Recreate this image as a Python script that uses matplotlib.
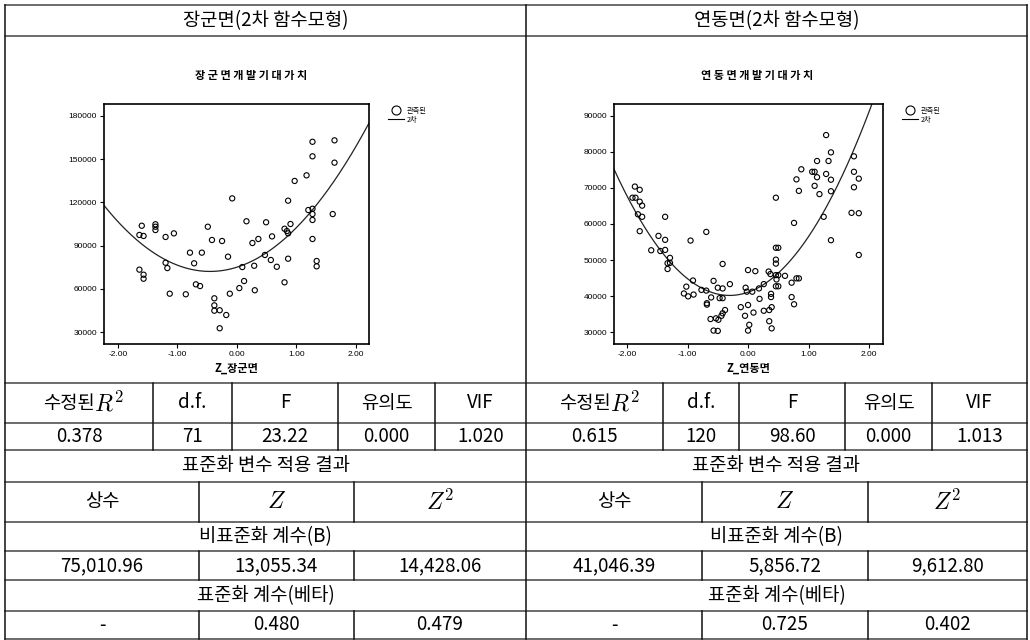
import numpy as np
import matplotlib
matplotlib.use('Agg')
import matplotlib.pyplot as plt
from matplotlib.lines import Line2D

plt.rcParams['font.family'] = ['Noto Sans CJK KR', 'DejaVu Sans']
plt.rcParams['mathtext.fontset'] = 'cm'

# 장군면: standardized z vs expected development value
jg_z = [-0.08, -1.60, -1.37, -1.37, -1.37, -1.64, -1.57, -1.20, -1.06, -0.49, -0.42, -0.25,
        -0.79, -0.59, -0.15, -0.72, -1.20, -1.17, -1.64, -1.57, -1.57, -0.69, -0.62, -1.13,
        -0.86, -0.12, -0.38, -0.38, -0.38, -0.29, -0.18, -0.29, 0.04,
        1.27, 1.64, 1.27, 1.64, 1.17, 0.97, 0.86, 1.20, 1.27, 1.27, 1.27, 1.61, 1.27, 0.16,
        0.49, 0.90, 0.80, 0.84, 0.86, 0.59, 0.36, 0.26, 0.47, 0.57, 0.86, 0.67, 0.29, 0.09,
        1.34, 1.34, 0.12, 0.30, 0.80]
jg_v = [122800, 103800, 104800, 103100, 100800, 97400, 96700, 96000, 98500, 103100, 93900, 93200,
        85100, 85100, 82300, 77700, 78100, 74400, 73300, 69800, 67000, 63100, 61900, 56600,
        56200, 56600, 53400, 48500, 44800, 45100, 41800, 32600, 60500,
        162100, 163100, 152000, 147600, 138800, 134900, 121200, 114700, 115600, 111900, 107800,
        111900, 94600, 106900, 106200, 105000, 101700, 100100, 98500, 96400, 94600, 91800,
        83500, 80000, 80900, 75300, 76000, 75100, 79300, 75600, 65400, 59000, 64500]

# 연동면
yd_z = [-1.87, -1.79, -1.91, -1.86, -1.79, -1.75, -1.82, -1.75, -1.37, -1.79, -0.69, -1.48,
        -1.37, -0.95, -1.60, -1.45, -1.37, -1.29, -1.33, -1.29, -1.33, -0.42, -0.91, -0.57,
        -1.02, -0.50, -0.42, -0.30, -0.77, -0.69, -1.06, -0.99, -0.90, -0.61, -0.47, -0.42,
        -0.04, -0.68, -0.68, -0.38, -0.42, -0.44, -0.53, -0.62, -0.49, -0.57, -0.50, -0.12,
        0.00, -0.05, 0.02, 0.00,
        1.29, 1.37, 1.14, 1.33, 0.88, 1.06, 1.10, 1.14, 1.29, 1.37, 0.80, 1.10, 0.84, 1.18,
        1.37, 1.75, 1.75, 1.83, 1.75, 0.46, 0.76, 1.25, 1.71, 1.83, 1.37, 1.83, 0.46, 0.50,
        0.46, 0.46, 0.00, 0.12, 0.34, 0.37, 0.46, 0.50, 0.47, 0.61, 0.80, 0.84, 0.72, 0.46,
        0.50, 0.26, 0.18, 0.07, -0.02, 0.38, 0.38, 0.19, 0.72, 0.76, 0.39, 0.35, 0.26, 0.09,
        0.35, 0.39]
yd_v = [70400, 69500, 67300, 67300, 66200, 65100, 62700, 62000, 62000, 58000, 57800, 56700,
        55600, 55400, 52700, 52500, 52800, 50600, 49100, 49200, 47500, 48900, 44300, 44200,
        42600, 42300, 42100, 43300, 41700, 41500, 40700, 39900, 40400, 39600, 39400, 39400,
        42300, 38000, 37600, 36100, 35200, 34500, 33800, 33600, 33400, 30400, 30300, 36900,
        37500, 34500, 32000, 30400,
        84700, 79900, 77500, 77500, 75200, 74500, 74500, 73000, 73900, 72300, 72400, 70600,
        69200, 68300, 69100, 78800, 74500, 72600, 70200, 67300, 60300, 62000, 63100, 63000,
        55500, 51400, 53400, 53400, 50100, 49000, 47200, 46900, 46800, 46100, 45800, 45800,
        44600, 45600, 44900, 44900, 43700, 42700, 42700, 43300, 42100, 41200, 41200, 40600,
        39700, 39200, 39700, 37700, 36900, 36100, 35900, 35400, 33000, 31000]

# regression results
stat_head = ['수정된', 'd.f.', 'F', '유의도', 'VIF']
jg_stats = ['0.378', '71', '23.22', '0.000', '1.020']
yd_stats = ['0.615', '120', '98.60', '0.000', '1.013']
coef_head = ['상수', '$Z$', '$Z^2$']
jg_b = [75010.96, 13055.34, 14428.06]
yd_b = [41046.39, 5856.72, 9612.80]
jg_beta = ['-', '0.480', '0.479']
yd_beta = ['-', '0.725', '0.402']

fig = plt.figure(figsize=(10.3, 6.4), dpi=100)
bg = fig.add_axes([0, 0, 1, 1])
bg.set_xlim(0, 1030)
bg.set_ylim(640, 0)
bg.axis('off')

rows = [5, 36, 383, 423, 450, 482, 522, 551, 580, 611, 639]
halves = [
    dict(x0=5, x1=526, c5=[153, 232, 338, 435], c3=[199, 354],
         title='장군면(2차 함수모형)', stats=jg_stats, b=jg_b, beta=jg_beta),
    dict(x0=526, x1=1027, c5=[663, 739, 845, 932], c3=[702, 868],
         title='연동면(2차 함수모형)', stats=yd_stats, b=yd_b, beta=yd_beta),
]
fs = 13.5
for y in rows:
    bg.plot([5, 1027], [y, y], color='#444', lw=1.1)
for x in [5, 526, 1027]:
    bg.plot([x, x], [rows[0], rows[-1]], color='#111', lw=1.1)

def mid(a, b):
    return (a + b) / 2

for h in halves:
    e5 = [h['x0']] + h['c5'] + [h['x1']]
    e3 = [h['x0']] + h['c3'] + [h['x1']]
    for x in h['c5']:
        bg.plot([x, x], [rows[2], rows[4]], color='#111', lw=1.1)
    for r in (5, 7, 9):
        for x in h['c3']:
            bg.plot([x, x], [rows[r], rows[r + 1]], color='#111', lw=1.1)
    cx = mid(h['x0'], h['x1'])
    bg.text(cx, mid(rows[0], rows[1]), h['title'], ha='center', va='center', fontsize=fs)
    yh = mid(rows[2], rows[3])
    for i in range(5):
        xc = mid(e5[i], e5[i + 1])
        if i == 0:
            # Korean label plus a larger italic R²
            bg.text(xc + 16, yh, stat_head[0], ha='right', va='center', fontsize=fs)
            bg.text(xc + 15, yh + 1, '$R^2$', ha='left', va='center', fontsize=17)
        else:
            bg.text(xc, yh, stat_head[i], ha='center', va='center', fontsize=fs)
        bg.text(xc, mid(rows[3], rows[4]), h['stats'][i], ha='center', va='center', fontsize=fs)
    bg.text(cx, mid(rows[4], rows[5]), '표준화 변수 적용 결과', ha='center', va='center', fontsize=fs)
    bg.text(cx, mid(rows[6], rows[7]), '비표준화 계수(B)', ha='center', va='center', fontsize=fs)
    bg.text(cx, mid(rows[8], rows[9]), '표준화 계수(베타)', ha='center', va='center', fontsize=fs)
    for i in range(3):
        xc = mid(e3[i], e3[i + 1])
        bg.text(xc, mid(rows[5], rows[6]), coef_head[i], ha='center', va='center',
                fontsize=fs if i == 0 else 17)
        bg.text(xc, mid(rows[7], rows[8]), f"{h['b'][i]:,.2f}", ha='center', va='center', fontsize=fs)
        bg.text(xc, mid(rows[9], rows[10]), h['beta'][i], ha='center', va='center', fontsize=fs)


def curve_plot(box, z, v, b, xlim, ylim, yticks, title, xlabel, title_x, leg_xy):
    x0, y0, x1, y1 = box
    ax = fig.add_axes([x0 / 1030, 1 - y1 / 640, (x1 - x0) / 1030, (y1 - y0) / 640])
    ax.scatter(z, v, s=14, facecolors='none', edgecolors='black', linewidths=0.8, zorder=3)
    zz = np.linspace(xlim[0], xlim[1], 300)
    ax.plot(zz, b[0] + b[1] * zz + b[2] * zz ** 2, color='#222', lw=0.9, zorder=2)
    ax.set_xlim(*xlim)
    ax.set_ylim(*ylim)
    ax.set_xticks([-2, -1, 0, 1, 2])
    ax.set_xticklabels([f'{t:.2f}' for t in [-2, -1, 0, 1, 2]], family='Liberation Sans')
    ax.set_yticks(yticks)
    ax.set_yticklabels([str(t) for t in yticks], family='Liberation Sans')
    ax.tick_params(direction='out', length=3, width=0.8, labelsize=6, pad=2)
    for s in ax.spines.values():
        s.set_linewidth(1.2)
    bg.text(title_x, 75, ' '.join(title), ha='center', va='center', fontsize=8, fontweight='bold')
    bg.text(mid(x0, x1), 368, xlabel, ha='center', va='center', fontsize=8, fontweight='bold')
    handles = [Line2D([], [], marker='o', ls='none', mfc='none', mec='black', ms=6.5, mew=0.8),
               Line2D([], [], color='black', lw=0.8)]
    ax.legend(handles, ['관측된', '2차'], loc='upper left', frameon=False,
              bbox_to_anchor=(leg_xy[0] / 1030, 1 - leg_xy[1] / 640),
              bbox_transform=fig.transFigure, fontsize=5.2, handlelength=2.2,
              handletextpad=0.4, labelspacing=0.1, borderpad=0, borderaxespad=0)
    return ax


curve_plot((104, 104, 369, 344), jg_z, jg_v, jg_b, (-2.235, 2.22), (21667, 188333),
           [30000, 60000, 90000, 120000, 150000, 180000], '장군면개발기대가치', 'Z_장군면',
           251, (388, 107))
curve_plot((614, 104, 883, 344), yd_z, yd_v, yd_b, (-2.215, 2.23), (26667, 93333),
           [30000, 40000, 50000, 60000, 70000, 80000, 90000], '연동면개발기대가치', 'Z_연동면',
           757, (902, 107))

fig.savefig('out.png', dpi=100)
